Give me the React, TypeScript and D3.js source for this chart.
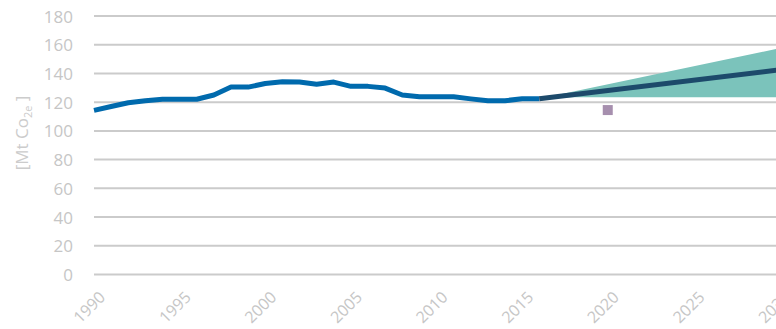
import React from "react";
import * as d3 from "d3";

const histYears = [1990,1991,1992,1993,1994,1995,1996,1997,1998,1999,2000,2001,2002,2003,2004,2005,2006,2007,2008,2009,2010,2011,2012,2013,2014,2015,2016];
const histValues = [114.3,117,119.6,121,122,122,122,125,130.5,130.5,133,134.2,134,132.5,134,131,131,129.8,125,123.8,123.8,123.8,122.3,121,121,122.4,122.4];
const projYears = [2016, 2030];
const projValues = [122.4, 142.5];
const rangeYears = [2016, 2018, 2030];
const rangeLow = [122.4, 123.4, 123.4];
const rangeHigh = [122.4, 127.4, 157.5];
const targetYears = [2020];
const targetValues = [114.5];
const yTicks = [0,20,40,60,80,100,120,140,160,180];
const xTicks = [1990,1995,2000,2005,2010,2015,2020,2025,2030];

const W = 776, H = 329;
const FONT = "'Open Sans', 'DejaVu Sans', sans-serif";

export default function App() {
  const x = d3.scaleLinear().domain([1990, 2030]).range([94, 779]);
  const y = d3.scaleLinear().domain([0, 180]).range([274.5, 16]);

  const line = d3.line<[number, number]>().x(d => x(d[0])).y(d => y(d[1]));
  const area = d3.area<number>()
    .x((_, i) => x(rangeYears[i]))
    .y0((_, i) => y(rangeLow[i]))
    .y1((_, i) => y(rangeHigh[i]));

  const hist = histYears.map((yr, i) => [yr, histValues[i]] as [number, number]);
  const proj = projYears.map((yr, i) => [yr, projValues[i]] as [number, number]);

  return (
    <svg width={W} height={H} style={{ position: "absolute", left: 0, top: 0, background: "#fff" }} fontFamily={FONT}>
      {yTicks.map(t => (
        <g key={t}>
          <line x1={94} x2={W} y1={y(t)} y2={y(t)} stroke="#cbcbcb" strokeWidth={2} />
          <text x={73} y={y(t)} textAnchor="end" dominantBaseline="central" fontSize={17} fill="#c6c6c6">{t}</text>
        </g>
      ))}
      {xTicks.map(t => (
        <text key={t} transform={`translate(${x(t) + 8},${294}) rotate(-45)`} textAnchor="end" dominantBaseline="central" fontSize={16} fill="#c6c6c6">{t}</text>
      ))}
      <text transform={`translate(28,133) rotate(-90)`} textAnchor="middle" fontSize={17} fill="#cccccc">
        [Mt Co<tspan fontSize={11} dy={4}>2e</tspan><tspan dy={-4}> ]</tspan>
      </text>
      <path d={area(rangeYears.map((_, i) => i)) || ""} fill="#7bc3bb" />
      <path d={line(hist) || ""} fill="none" stroke="#006aad" strokeWidth={5} strokeLinejoin="round" />
      <path d={line(proj) || ""} fill="none" stroke="#1d4a6b" strokeWidth={5} />
      {targetYears.map((yr, i) => (
        <rect key={yr} x={x(yr) - 5} y={y(targetValues[i]) - 5} width={10} height={10} fill="#a68fae" />
      ))}
    </svg>
  );
}
